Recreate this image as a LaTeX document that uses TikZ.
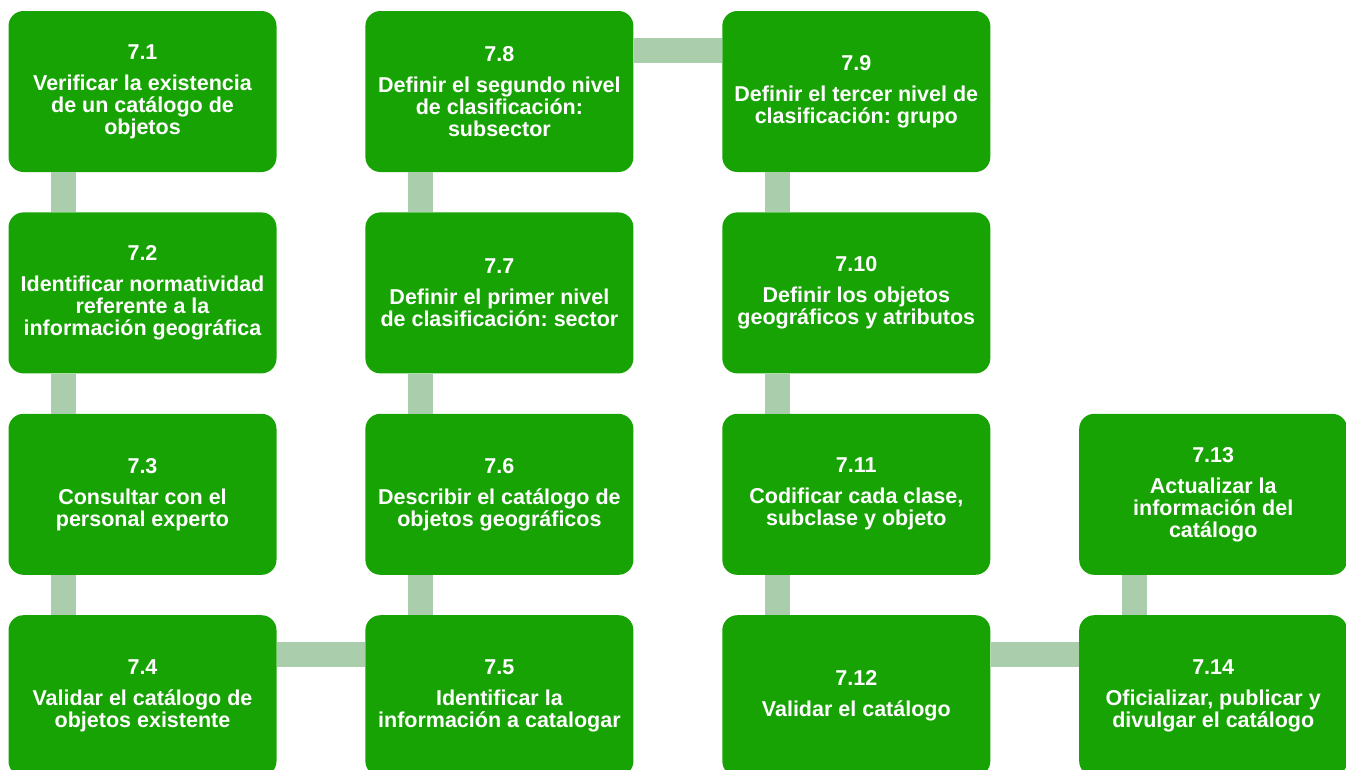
\documentclass[tikz,border=0pt]{standalone}
\usepackage{fontspec}
\setmainfont{Liberation Sans}
\usepackage{tikz}
\usetikzlibrary{positioning}
\definecolor{boxgreen}{RGB}{24,163,4}
\definecolor{linkgreen}{RGB}{170,206,172}
\frenchspacing

\begin{document}
\begin{tikzpicture}[node distance=40pt and 88.5pt,
	stepbox/.style={rectangle, rounded corners=15pt, fill=boxgreen, text=white, inner sep=0pt,
		minimum width=268pt, minimum height=161pt, align=center,
		font=\fontsize{21.5}{22}\selectfont\bfseries},
	link/.style={draw=linkgreen, line width=25pt}]
	\useasboundingbox (0pt,0pt) rectangle (1346pt,-769pt);
	\node[stepbox] (1) at (142.5pt,-91.5pt) {7.1\\[9pt]Verificar la existencia\\de un catálogo de\\objetos};
	\node[stepbox] (2) [below=of 1]  {7.2\\[9pt]Identificar normatividad\\referente a la\\información geográfica};
	\node[stepbox] (3) [below=of 2]  {7.3\\[9pt]Consultar con el\\personal experto};
	\node[stepbox] (4) [below=of 3]  {7.4\\[9pt]Validar el catálogo de\\objetos existente};
	\node[stepbox] (5) [right=of 4]  {7.5\\[9pt]Identificar la\\información a catalogar};
	\node[stepbox] (6) [above=of 5]  {7.6\\[9pt]Describir el catálogo de\\objetos geográficos};
	\node[stepbox] (7) [above=of 6]  {7.7\\[9pt]Definir el primer nivel\\de clasificación: sector};
	\node[stepbox] (8) [above=of 7]  {7.8\\[9pt]Definir el segundo nivel\\de clasificación:\\subsector};
	\node[stepbox] (9) [right=of 8]  {7.9\\[9pt]Definir el tercer nivel de\\clasificación: grupo};
	\node[stepbox] (10) [below=of 9]  {7.10\\[9pt]Definir los objetos\\geográficos y atributos};
	\node[stepbox] (11) [below=of 10] {7.11\\[9pt]Codificar cada clase,\\subclase y objeto};
	\node[stepbox] (12) [below=of 11] {7.12\\[9pt]Validar el catálogo};
	\node[stepbox] (14) [right=of 12] {7.14\\[9pt]Oficializar, publicar y\\divulgar el catálogo};
	\node[stepbox] (13) [above=of 14] {7.13\\[9pt]Actualizar la\\información del\\catálogo};

	% vertical links
	\foreach \a/\b in {1/2,2/3,3/4,6/5,7/6,8/7,9/10,10/11,11/12,13/14}
		\path[link] ([xshift=-79pt]\a.south) -- ([xshift=-79pt]\b.north);
	% horizontal links
	\foreach \a/\b in {4/5,8/9,12/14}
		\path[link] ([yshift=41pt]\a.east) -- ([yshift=41pt]\b.west);
\end{tikzpicture}
\end{document}
